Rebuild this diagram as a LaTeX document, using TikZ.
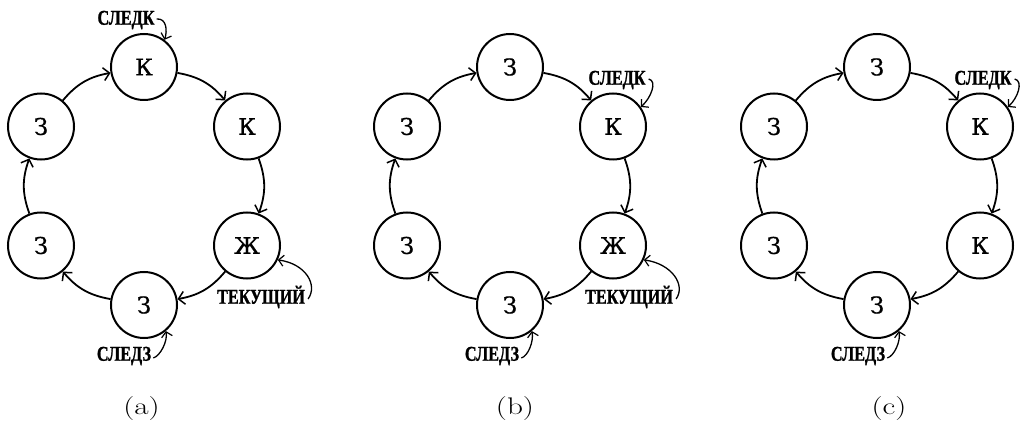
\documentclass[tikz,border=0pt]{standalone}
\usepackage{fontspec}
\usetikzlibrary{arrows.meta,calc}
\newfontfamily\nodefont{DejaVu Serif}[FakeBold=0.8]
\newfontfamily\labfont{Liberation Serif}[FakeStretch=0.77,BoldFeatures={FakeBold=1.2}]
\tikzset{
  st/.style={circle,draw,line width=2pt,minimum size=66pt,inner sep=0pt,
    font=\nodefont\fontsize{23}{23}\selectfont},
  edgearr/.style={line width=1.8pt,-{Straight Barb[length=6pt,width=13pt,line width=1.5pt]},bend left=20},
  ptr/.style={line width=1.3pt,-{Straight Barb[length=5pt,width=11pt,line width=1.2pt]}},
  lab/.style={font=\labfont\bfseries\fontsize{21}{21}\selectfont,inner sep=1pt},
  captext/.style={font=\fontsize{24}{24}\selectfont,inner sep=0pt}
}
\newcommand\myring[8]{%
  \node[st] (#1t)  at (#2,354) {#3};
  \node[st] (#1ur) at ($(#2,0)+(103,294.5)$) {#4};
  \node[st] (#1lr) at ($(#2,0)+(103,175.5)$) {#5};
  \node[st] (#1b)  at (#2,116) {#6};
  \node[st] (#1ll) at ($(#2,0)+(-103,175.5)$) {#7};
  \node[st] (#1ul) at ($(#2,0)+(-103,294.5)$) {#8};
  \draw[edgearr] (#1ul) to (#1t);
  \draw[edgearr] (#1t) to (#1ur);
  \draw[edgearr] (#1ur) to (#1lr);
  \draw[edgearr] (#1lr) to (#1b);
  \draw[edgearr] (#1b) to (#1ll);
  \draw[edgearr] (#1ll) to (#1ul);
}
\begin{document}
\begin{tikzpicture}[x=1pt,y=1pt]
\useasboundingbox (0,0) rectangle (1026,421);
% (a)
\myring{a}{144}{К}{К}{Ж}{З}{З}{З}
\node[lab] (aslk) at (126,401) {СЛЕДК};
\draw[ptr] ($(aslk.east)+(1,1)$) .. controls +(10,1) and +(3,9) .. (at.53);
\node[lab] (atek) at (261,124) {ТЕКУЩИЙ};
\draw[ptr] ($(atek.east)+(2,-2)$) .. controls +(10,14) and +(28,-4) .. (alr.-25);
\node[lab] (aslz) at (124,65) {СЛЕДЗ};
\draw[ptr] ($(aslz.east)+(1,-2)$) .. controls +(7,2) and +(2,-10) .. (ab.-50);
\node[captext] (capa) at (141.5,12) {\scalebox{1.3}[1]{(a)}};
% (b)
\myring{b}{510}{З}{К}{Ж}{З}{З}{З}
\node[lab] (bslk) at (617,341) {СЛЕДК};
\draw[ptr] ($(bslk.east)+(2,1)$) .. controls +(9,-2) and +(10,9) .. (bur.35);
\node[lab] (btek) at (629,124) {ТЕКУЩИЙ};
\draw[ptr] ($(btek.east)+(2,-2)$) .. controls +(10,14) and +(28,-4) .. (blr.-25);
\node[lab] (bslz) at (492,65) {СЛЕДЗ};
\draw[ptr] ($(bslz.east)+(1,-2)$) .. controls +(7,2) and +(2,-10) .. (bb.-50);
\node[captext] (capb) at (515,12) {\scalebox{1.3}[1]{(b)}};
% (c)
\myring{c}{877}{З}{К}{К}{З}{З}{З}
\node[lab] (cslk) at (983,341) {СЛЕДК};
\draw[ptr] ($(cslk.east)+(2,1)$) .. controls +(9,-2) and +(10,9) .. (cur.35);
\node[lab] (cslz) at (858,65) {СЛЕДЗ};
\draw[ptr] ($(cslz.east)+(1,-2)$) .. controls +(7,2) and +(2,-10) .. (cb.-50);
\node[captext] (capc) at (889,12) {\scalebox{1.3}[1]{(c)}};
\end{tikzpicture}
\end{document}
